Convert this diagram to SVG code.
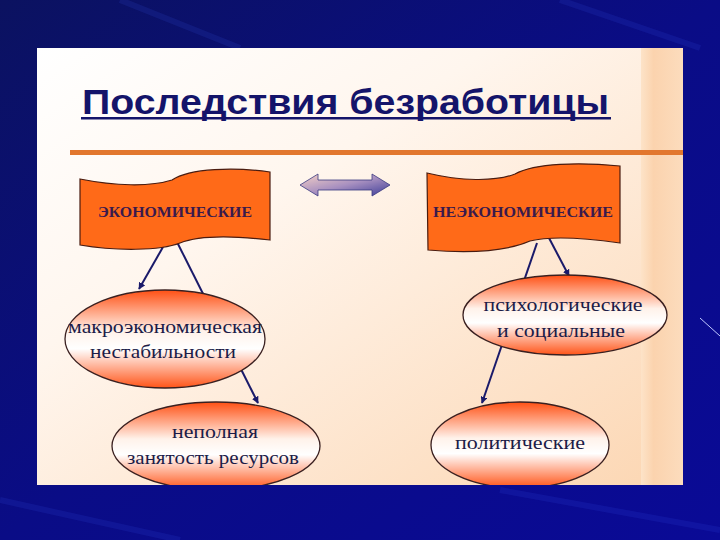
<svg xmlns="http://www.w3.org/2000/svg" width="720" height="540" viewBox="0 0 720 540">
<defs>
<linearGradient id="bg" x1="0" y1="0" x2="1" y2="1">
<stop offset="0" stop-color="#0b1260"/>
<stop offset="0.5" stop-color="#0a0c86"/>
<stop offset="1" stop-color="#0a0a96"/>
</linearGradient>
<linearGradient id="panel" x1="0" y1="0" x2="1" y2="1">
<stop offset="0" stop-color="#ffffff"/>
<stop offset="0.35" stop-color="#fff6ee"/>
<stop offset="1" stop-color="#fcd6b2"/>
</linearGradient>
<linearGradient id="strip" x1="0" y1="0" x2="1" y2="0">
<stop offset="0" stop-color="#fde3c8"/>
<stop offset="0.3" stop-color="#fbd3ae"/>
<stop offset="1" stop-color="#fcdcbd"/>
</linearGradient>
<linearGradient id="ell" x1="0" y1="0" x2="0" y2="1">
<stop offset="0" stop-color="#ff5014"/>
<stop offset="0.42" stop-color="#fff2ea"/>
<stop offset="0.6" stop-color="#ffffff"/>
<stop offset="1" stop-color="#ff5418"/>
</linearGradient>
<linearGradient id="darr" x1="0" y1="0" x2="1" y2="1">
<stop offset="0" stop-color="#f6d2c6"/>
<stop offset="0.5" stop-color="#a890c0"/>
<stop offset="1" stop-color="#3c3c98"/>
</linearGradient>
<marker id="ah" viewBox="0 0 10 10" refX="9" refY="5" markerWidth="7" markerHeight="7" orient="auto" markerUnits="userSpaceOnUse">
<path d="M0,0 L10,5 L0,10 Z" fill="#1a1a6a"/>
</marker>
<style>
.ban{fill:#ff6a18;stroke:#4a1c10;stroke-width:1.2}
.bt{font-family:"Liberation Serif","Times New Roman",serif;font-weight:bold;font-size:15px;fill:#3a1a4c;text-anchor:middle}
.et{font-family:"Liberation Serif","Times New Roman",serif;font-size:19px;fill:#1c1c48;text-anchor:middle}
.el{fill:url(#ell);stroke:#3a2020;stroke-width:1.3}
.cn{stroke:#1a1a6a;stroke-width:2;fill:none}
</style>
<clipPath id="pc"><rect x="37" y="48" width="646" height="437"/></clipPath>
</defs>
<rect width="720" height="540" fill="url(#bg)"/>
<g opacity="0.12" stroke="#4060ff" stroke-width="6" fill="none">
<path d="M120,0 L240,48"/>
<path d="M560,0 L700,48"/>
<path d="M0,500 L180,540"/>
<path d="M500,490 L720,530"/>
</g>
<path d="M700,318 L720,336" stroke="#c0c8ff" stroke-width="1"/>
<rect x="37" y="48" width="646" height="437" fill="url(#panel)"/>
<rect x="641" y="48" width="42" height="437" fill="url(#strip)"/>
<g id="title">
<text x="82" y="114" font-family="'Liberation Sans',Arial,sans-serif" font-weight="bold" font-size="35" fill="#14146a" textLength="527" lengthAdjust="spacingAndGlyphs">Последствия безработицы</text>
<rect x="81" y="117" width="530" height="2.5" fill="#14146a"/>
</g>
<rect x="70" y="150" width="613" height="5" fill="#e2772e"/>
<g clip-path="url(#pc)">
<g id="connectors">
<line class="cn" x1="163" y1="247" x2="139" y2="289" marker-end="url(#ah)"/>
<line class="cn" x1="177" y1="242" x2="258" y2="403" marker-end="url(#ah)"/>
<line class="cn" x1="549" y1="238" x2="569" y2="276" marker-end="url(#ah)"/>
<line class="cn" x1="537" y1="243" x2="482" y2="403" marker-end="url(#ah)"/>
</g>
<g id="arrow">
<path d="M300,185 L318,174 L318,180 L372,180 L372,174 L390,185 L372,196 L372,190 L318,190 L318,196 Z" fill="url(#darr)" stroke="#3a3a80" stroke-width="0.8"/>
</g>
<g id="econ">
<path class="ban" d="M80,179 C115,186 150,187 172,180 C190,168 235,167 270,172 L270,240 C235,236 200,235 180,243 C160,251 115,251 80,245 Z"/>
<text class="bt" x="175" y="217" textLength="154" lengthAdjust="spacingAndGlyphs">ЭКОНОМИЧЕСКИЕ</text>
</g>
<g id="noneco">
<path class="ban" d="M427,173 C460,181 495,182 515,174 C535,163 580,162 620,166 L620,243 C585,238 550,236 530,241 C505,252 465,253 428,250 Z"/>
<text class="bt" x="523" y="217" textLength="180" lengthAdjust="spacingAndGlyphs">НЕЭКОНОМИЧЕСКИЕ</text>
</g>
<g id="macro">
<ellipse class="el" cx="165" cy="339" rx="100" ry="49"/>
<text class="et" x="165" y="333" textLength="194" lengthAdjust="spacingAndGlyphs">макроэкономическая</text>
<text class="et" x="163" y="358" textLength="146" lengthAdjust="spacingAndGlyphs">нестабильности</text>
</g>
<g id="underuse">
<ellipse class="el" cx="216" cy="446" rx="104" ry="44"/>
<text class="et" x="215" y="438" textLength="86" lengthAdjust="spacingAndGlyphs">неполная</text>
<text class="et" x="213" y="464" textLength="172" lengthAdjust="spacingAndGlyphs">занятость ресурсов</text>
</g>
<g id="psych">
<ellipse class="el" cx="565" cy="315" rx="102" ry="40"/>
<text class="et" x="563" y="311" textLength="159" lengthAdjust="spacingAndGlyphs">психологические</text>
<text class="et" x="561" y="337" textLength="128" lengthAdjust="spacingAndGlyphs">и социальные</text>
</g>
<g id="polit">
<ellipse class="el" cx="520" cy="445" rx="89" ry="43"/>
<text class="et" x="520" y="449" textLength="130" lengthAdjust="spacingAndGlyphs">политические</text>
</g>
</g>
</svg>
